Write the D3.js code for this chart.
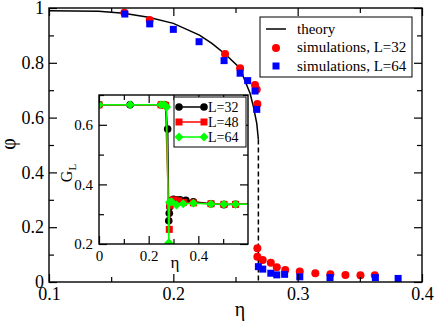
<!DOCTYPE html>
<html>
<head>
<meta charset="utf-8">
<script src="https://cdn.jsdelivr.net/npm/d3@7"></script>
<style>
  body { margin: 0; background: #fff; }
  svg { display: block; }
  svg text { font-family: "Liberation Serif", "Tinos", "Times New Roman", "Nimbus Roman", "DejaVu Serif", serif; }
</style>
</head>
<body>
<div id="chart"></div>
<script>
// main panel: order parameter vs noise
var theoryEta = [0.1, 0.14, 0.16, 0.18, 0.2, 0.221, 0.231, 0.2416, 0.2537, 0.2563, 0.2617, 0.2644, 0.2671, 0.2684];
var theoryPhi = [0.990, 0.988, 0.981, 0.966, 0.944, 0.901, 0.871, 0.832, 0.780, 0.749, 0.689, 0.640, 0.579, 0.52];
var dashEta = [0.2684, 0.2684];
var dashPhi = [0.52, 0.0];

var l32Eta = [0.1606, 0.181, 0.2416, 0.2537, 0.2657, 0.2671, 0.2676, 0.2676, 0.2676, 0.2719, 0.2784, 0.2832, 0.290, 0.3017, 0.3142, 0.3263, 0.3384, 0.3505, 0.362];
var l32Phi = [0.983, 0.956, 0.832, 0.780, 0.719, 0.703, 0.650, 0.123, 0.092, 0.080, 0.070, 0.054, 0.044, 0.038, 0.032, 0.028, 0.026, 0.025, 0.025];

var l64Eta = [0.161, 0.181, 0.200, 0.2207, 0.2408, 0.2537, 0.2598, 0.2657, 0.2671, 0.2684, 0.2719, 0.2784, 0.2832, 0.2895, 0.3017, 0.326, 0.3625, 0.3808];
var l64Phi = [0.978, 0.942, 0.922, 0.877, 0.808, 0.762, 0.735, 0.697, 0.630, 0.056, 0.047, 0.032, 0.026, 0.028, 0.019, 0.016, 0.016, 0.013];

// inset: G_L vs eta
var g32Eta = [0, 0.125, 0.25, 0.262, 0.268, 0.2765, 0.281, 0.283, 0.285, 0.29, 0.30, 0.31, 0.326, 0.35, 0.38, 0.451, 0.503, 0.55, 0.65];
var g32 = [0.667, 0.667, 0.667, 0.667, 0.665, 0.586, 0.278, 0.303, 0.325, 0.345, 0.35, 0.348, 0.348, 0.347, 0.342, 0.335, 0.332, 0.333, 0.333];
var g48Eta = [0, 0.25, 0.262, 0.268, 0.283, 0.285, 0.292, 0.30, 0.32, 0.34, 0.38, 0.451, 0.503, 0.55, 0.65];
var g48 = [0.667, 0.667, 0.667, 0.665, 0.249, 0.33, 0.345, 0.348, 0.345, 0.340, 0.338, 0.335, 0.333, 0.333, 0.333];
var g64Eta = [0, 0.125, 0.25, 0.262, 0.268, 0.272, 0.281, 0.284, 0.292, 0.312, 0.339, 0.38, 0.451, 0.503, 0.55, 0.65];
var g64 = [0.667, 0.667, 0.667, 0.667, 0.662, 0.660, 0.204, 0.34, 0.342, 0.331, 0.335, 0.337, 0.334, 0.333, 0.333, 0.333];

var mainXMajor = [0.1, 0.2, 0.3, 0.4];
var mainXMinor = [0.15, 0.25, 0.35];
var mainYMajor = [0, 0.2, 0.4, 0.6, 0.8, 1];
var mainYMinor = [0.1, 0.3, 0.5, 0.7, 0.9];
var insetXMajor = [0, 0.2, 0.4];
var insetXMinor = [0.1, 0.3, 0.5];
var insetYMajor = [0.2, 0.4, 0.6];
var insetYMinor = [0.3, 0.5, 0.7];

function zip(a, b) {
    return a.map(function(v, i) { return [v, b[i]]; });
}

function fmt(d) {
    return d3.format("")(+d.toFixed(2));
}

const width = 436;
const height = 321;

let svg = d3.select('#chart')
    .append('svg')
    .attr('width', width)
    .attr('height', height);

function addAxes(g, x, y, xMaj, xMin, yMaj, yMin, fs, padX, padY) {
    const w = x.range()[1] - x.range()[0];
    const h = y.range()[0] - y.range()[1];
    g.append('g').attr('transform', `translate(0,${h})`)
        .call(d3.axisBottom(x).tickValues(xMaj).tickSize(-8).tickPadding(padX).tickFormat(fmt));
    g.append('g').attr('transform', `translate(0,${h})`)
        .call(d3.axisBottom(x).tickValues(xMin).tickSize(-5).tickFormat(''));
    g.append('g').call(d3.axisTop(x).tickValues(xMaj).tickSize(-8).tickFormat(''));
    g.append('g').call(d3.axisTop(x).tickValues(xMin).tickSize(-5).tickFormat(''));
    g.append('g')
        .call(d3.axisLeft(y).tickValues(yMaj).tickSize(-8).tickPadding(padY).tickFormat(fmt));
    g.append('g').call(d3.axisLeft(y).tickValues(yMin).tickSize(-5).tickFormat(''));
    g.append('g').attr('transform', `translate(${w},0)`)
        .call(d3.axisRight(y).tickValues(yMaj).tickSize(-8).tickFormat(''));
    g.append('g').attr('transform', `translate(${w},0)`)
        .call(d3.axisRight(y).tickValues(yMin).tickSize(-5).tickFormat(''));
    g.selectAll('.domain').remove();
    g.selectAll('g').attr('font-family', null);
    g.selectAll('.tick line').attr('stroke', '#000').attr('stroke-width', 1.2);
    g.selectAll('.tick text').attr('font-size', fs).attr('fill', '#000');
    g.append('rect').attr('width', w).attr('height', h)
        .attr('fill', 'none').attr('stroke', '#000').attr('stroke-width', 1.4);
}

// ---- main plot ----
const mLeft = 49, mTop = 8, mW = 373, mH = 274;
const x = d3.scaleLinear().domain([0.1, 0.4]).range([0, mW]);
const y = d3.scaleLinear().domain([0, 1]).range([mH, 0]);

let main = svg.append('g').attr('transform', `translate(${mLeft},${mTop})`);
main.append('rect').attr('width', mW).attr('height', mH).attr('fill', '#fff');

svg.append('defs').append('clipPath').attr('id', 'mclip')
    .append('rect').attr('width', mW).attr('height', mH);

let mdata = main.append('g').attr('clip-path', 'url(#mclip)');
const line = d3.line().x((d) => x(d[0])).y((d) => y(d[1]));

mdata.append('path').datum(zip(theoryEta, theoryPhi))
    .attr('d', line).attr('fill', 'none').attr('stroke', '#000').attr('stroke-width', 1.5);
mdata.append('path').datum(zip(dashEta, dashPhi))
    .attr('d', line).attr('fill', 'none').attr('stroke', '#000').attr('stroke-width', 1.5)
    .attr('stroke-dasharray', '5,3');

mdata.selectAll('circle.l32').data(zip(l32Eta, l32Phi)).enter().append('circle')
    .attr('class', 'l32')
    .attr('cx', (d) => x(d[0])).attr('cy', (d) => y(d[1]))
    .attr('r', 4).attr('fill', '#ff0000');
mdata.selectAll('rect.l64').data(zip(l64Eta, l64Phi)).enter().append('rect')
    .attr('class', 'l64')
    .attr('x', (d) => x(d[0]) - 3.5).attr('y', (d) => y(d[1]) - 3.5)
    .attr('width', 7).attr('height', 7).attr('fill', '#0000ff');

addAxes(main, x, y, mainXMajor, mainXMinor, mainYMajor, mainYMinor, 18, 5, 5);

svg.append('text').attr('x', 240).attr('y', 316).attr('text-anchor', 'middle')
    .attr('font-size', 20).text('η');
svg.append('text').attr('transform', 'translate(15,144) rotate(-90)')
    .attr('text-anchor', 'middle').attr('font-size', 20).text('φ');

// main legend
let leg = svg.append('g');
leg.append('rect').attr('x', 260).attr('y', 17).attr('width', 152).attr('height', 60)
    .attr('fill', '#fff').attr('stroke', '#000').attr('stroke-width', 1);
leg.append('line').attr('x1', 266).attr('x2', 286).attr('y1', 29).attr('y2', 29)
    .attr('stroke', '#000').attr('stroke-width', 1.5);
leg.append('circle').attr('cx', 276).attr('cy', 48).attr('r', 4).attr('fill', '#ff0000');
leg.append('rect').attr('x', 272.5).attr('y', 62.5).attr('width', 7).attr('height', 7).attr('fill', '#0000ff');
const legText = ['theory', 'simulations, L=32', 'simulations, L=64'];
leg.selectAll('text').data(legText).enter().append('text')
    .attr('x', 297).attr('y', (d, i) => 29 + i * 18.5).attr('dy', '0.33em')
    .attr('font-size', 15).text((d) => d);

// ---- inset ----
const iLeft = 99, iTop = 95, iW = 149, iH = 149;
const xi = d3.scaleLinear().domain([0, 0.6]).range([0, iW]);
const yi = d3.scaleLinear().domain([0.2, 0.7]).range([iH, 0]);

let inset = svg.append('g').attr('transform', `translate(${iLeft},${iTop})`);
inset.append('rect').attr('width', iW).attr('height', iH).attr('fill', '#fff');
svg.select('defs').append('clipPath').attr('id', 'iclip')
    .append('rect').attr('width', iW).attr('height', iH);
let idata = inset.append('g').attr('clip-path', 'url(#iclip)');
const iline = d3.line().x((d) => xi(d[0])).y((d) => yi(d[1]));

const series = [
    { eta: g32Eta, g: g32, color: '#000000', shape: 'circle', name: 'L=32' },
    { eta: g48Eta, g: g48, color: '#ff0000', shape: 'square', name: 'L=48' },
    { eta: g64Eta, g: g64, color: '#00ff00', shape: 'diamond', name: 'L=64' }
];

function marker(sel, shape, color) {
    if (shape == 'circle') {
        sel.append('circle').attr('r', 3.8).attr('fill', color);
    } else if (shape == 'square') {
        sel.append('rect').attr('x', -3.5).attr('y', -3.5).attr('width', 7).attr('height', 7).attr('fill', color);
    } else {
        sel.append('path').attr('d', 'M0,-4.5L4.5,0L0,4.5L-4.5,0Z').attr('fill', color);
    }
}

series.forEach(function(s) {
    const pts = zip(s.eta, s.g);
    idata.append('path').datum(pts).attr('d', iline)
        .attr('fill', 'none').attr('stroke', s.color).attr('stroke-width', 1.5);
    idata.selectAll(null).data(pts).enter().append('g')
        .attr('transform', (d) => `translate(${xi(d[0])},${yi(d[1])})`)
        .each(function() { marker(d3.select(this), s.shape, s.color); });
});

addAxes(inset, xi, yi, insetXMajor, insetXMinor, insetYMajor, insetYMinor, 15, 6, 6);

svg.append('text').attr('x', 175).attr('y', 268).attr('text-anchor', 'middle')
    .attr('font-size', 17).text('η');
let gl = svg.append('text').attr('transform', 'translate(72,173) rotate(-90)')
    .attr('text-anchor', 'middle').attr('font-size', 16);
gl.append('tspan').text('G');
gl.append('tspan').attr('font-size', 11).attr('dy', 4).text('L');

// inset legend
let ileg = svg.append('g');
ileg.append('rect').attr('x', 174).attr('y', 97).attr('width', 72).attr('height', 50)
    .attr('fill', '#fff').attr('stroke', '#000').attr('stroke-width', 1);
series.forEach(function(s, i) {
    const yy = 107 + i * 15;
    ileg.append('line').attr('x1', 179).attr('x2', 204).attr('y1', yy).attr('y2', yy)
        .attr('stroke', s.color).attr('stroke-width', 1.5);
    marker(ileg.append('g').attr('transform', `translate(179,${yy})`), s.shape, s.color);
    marker(ileg.append('g').attr('transform', `translate(204,${yy})`), s.shape, s.color);
    ileg.append('text').attr('x', 208).attr('y', yy).attr('dy', '0.33em')
        .attr('font-size', 14).text(s.name);
});
</script>
</body>
</html>
